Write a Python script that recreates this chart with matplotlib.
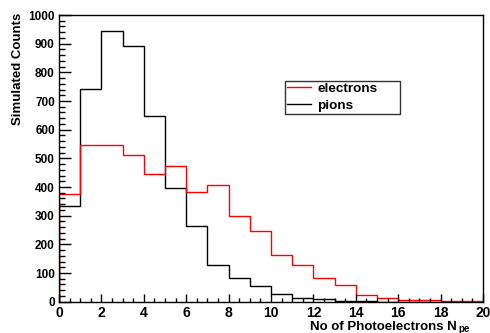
import numpy as np
import matplotlib.pyplot as plt
from matplotlib.ticker import MultipleLocator

plt.rcParams['font.family'] = ['Liberation Sans', 'DejaVu Sans']
plt.rcParams['font.weight'] = 'bold'

edges = np.arange(0, 21)
electrons = [377, 548, 545, 513, 445, 474, 382, 407, 298, 248,
             163, 128, 84, 58, 23, 12, 6, 5, 1, 1]
pions = [335, 741, 945, 892, 648, 398, 265, 128, 82, 55,
         26, 13, 11, 4, 1, 0, 0, 0, 0, 0]

W, H = 490, 333
fig = plt.figure(figsize=(W/100, H/100), dpi=100)
ax = fig.add_axes([59/W, 31.3/H, 424/W, 286.7/H])

ax.stairs(pions, edges, color="black", lw=1.0, label="pions")
ax.stairs(electrons, edges, color="red", lw=1.0, label="electrons")

ax.set_xlim(0, 20)
ax.set_ylim(0, 1000)
ax.xaxis.set_major_locator(MultipleLocator(2))
ax.xaxis.set_minor_locator(MultipleLocator(0.5))
ax.yaxis.set_major_locator(MultipleLocator(100))
ax.yaxis.set_minor_locator(MultipleLocator(20))
ax.tick_params(which="both", direction="in", width=1)
ax.tick_params(axis="y", which="major", length=8.6, pad=3, labelsize=8.5)
ax.tick_params(axis="y", which="minor", length=4.3)
ax.tick_params(axis="x", which="major", length=5.5, pad=3, labelsize=10)
ax.tick_params(axis="x", which="minor", length=2.9)
for s in ax.spines.values():
    s.set_linewidth(1.0)

# axis titles, right aligned at the end of the axes like ROOT
fig.text(18/W, 1 - 13/H, "Simulated Counts", rotation=90, ha="center", va="top",
         fontsize=9.5, fontweight="bold")
fig.text(457/W, 3/H, "No of Photoelectrons N", ha="right", va="baseline",
         fontsize=9.5, fontweight="bold")
fig.text(458/W, 1/H, "pe", ha="left", va="baseline", fontsize=7, fontweight="bold")

h, l = ax.get_legend_handles_labels()
leg = ax.legend(h[::-1], l[::-1], loc="upper left", mode="expand",
                bbox_to_anchor=(226/424, (301.7-80.7)/286.7 - 36/286.7, 115/424, 36/286.7),
                borderaxespad=0, fontsize=9.7, frameon=True, fancybox=False,
                handlelength=1.8, borderpad=0.15, labelspacing=0.3, handletextpad=0.45)
leg.get_frame().set_edgecolor("black")
leg.get_frame().set_linewidth(1.0)

fig.savefig("out.png", dpi=100)
